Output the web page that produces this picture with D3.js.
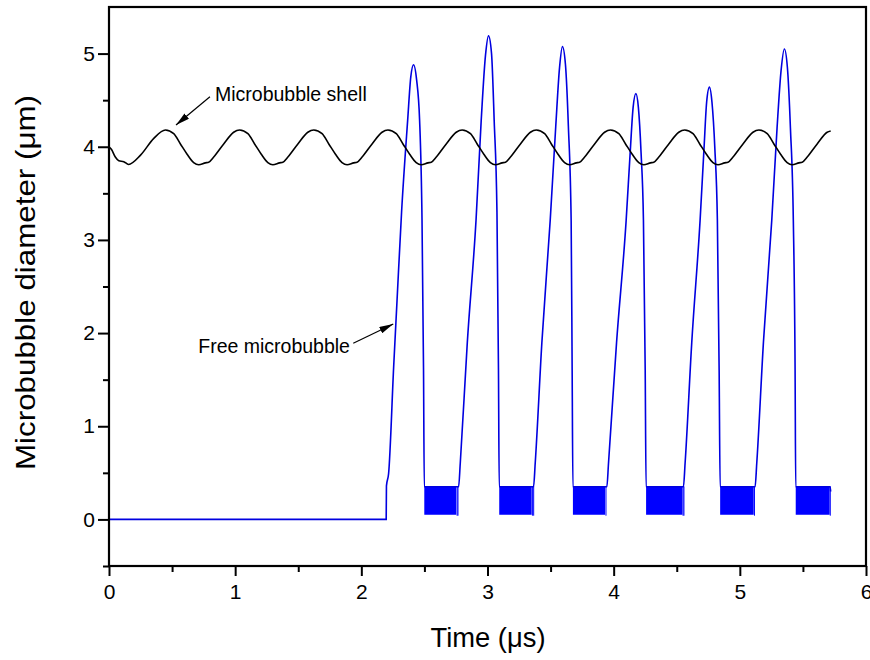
<!DOCTYPE html>
<html><head><meta charset="utf-8">
<script src="https://cdn.jsdelivr.net/npm/d3@7"></script>
<style>body{margin:0;background:#fff} text{font-family:"Liberation Sans",Arial,sans-serif;fill:#000}</style>
</head><body><svg id="c" width="870" height="660"></svg>
<script>
// ---- data ----
const xTicks = [0, 1, 2, 3, 4, 5, 6];
const xMinor = [0.5, 1.5, 2.5, 3.5, 4.5, 5.5];
const yTicks = [0, 1, 2, 3, 4, 5];
const yMinor = [-0.5, 0.5, 1.5, 2.5, 3.5, 4.5];

const shellTime = [0, 0.02, 0.05, 0.078, 0.117, 0.155, 0.25, 0.355,
  0.447, 0.513, 0.566, 0.619, 0.671, 0.711, 0.764, 0.790, 0.830, 0.909, 0.988,
  1.035, 1.101, 1.154, 1.207, 1.259, 1.299, 1.352, 1.378, 1.418, 1.497, 1.576,
  1.623, 1.689, 1.742, 1.795, 1.847, 1.887, 1.940, 1.966, 2.006, 2.085, 2.164,
  2.211, 2.277, 2.330, 2.383, 2.435, 2.475, 2.528, 2.554, 2.594, 2.673, 2.752,
  2.799, 2.865, 2.918, 2.971, 3.023, 3.063, 3.116, 3.142, 3.182, 3.261, 3.340,
  3.387, 3.453, 3.506, 3.559, 3.611, 3.651, 3.704, 3.730, 3.770, 3.849, 3.928,
  3.975, 4.041, 4.094, 4.147, 4.199, 4.239, 4.292, 4.318, 4.358, 4.437, 4.516,
  4.563, 4.629, 4.682, 4.735, 4.787, 4.827, 4.880, 4.906, 4.946, 5.025, 5.104,
  5.151, 5.217, 5.270, 5.323, 5.375, 5.415, 5.468, 5.494, 5.534, 5.613, 5.692, 5.72];
const shellDiam = [4.00, 3.97, 3.89, 3.85, 3.84, 3.81, 3.91, 4.09,
  4.18, 4.14, 4.03, 3.92, 3.83, 3.806, 3.827, 3.834, 3.89, 4.03, 4.156,
  4.18, 4.14, 4.03, 3.92, 3.83, 3.806, 3.827, 3.834, 3.89, 4.03, 4.156,
  4.18, 4.14, 4.03, 3.92, 3.83, 3.806, 3.827, 3.834, 3.89, 4.03, 4.156,
  4.18, 4.14, 4.03, 3.92, 3.83, 3.806, 3.827, 3.834, 3.89, 4.03, 4.156,
  4.18, 4.14, 4.03, 3.92, 3.83, 3.806, 3.827, 3.834, 3.89, 4.03, 4.156,
  4.18, 4.14, 4.03, 3.92, 3.83, 3.806, 3.827, 3.834, 3.89, 4.03, 4.156,
  4.18, 4.14, 4.03, 3.92, 3.83, 3.806, 3.827, 3.834, 3.89, 4.03, 4.156,
  4.18, 4.14, 4.03, 3.92, 3.83, 3.806, 3.827, 3.834, 3.89, 4.03, 4.156,
  4.18, 4.14, 4.03, 3.92, 3.83, 3.806, 3.827, 3.834, 3.89, 4.03, 4.156, 4.17];

const freeTime = [0, 2.197, 2.199, 2.216, 2.256, 2.283, 2.319, 2.367, 2.392, 2.414, 2.438, 2.462, 2.481, 2.493, 2.499,
  2.771, 2.784, 2.840, 2.909, 2.950, 2.984, 3.008, 3.032, 3.053, 3.075, 3.087, 3.093,
  3.365, 3.378, 3.431, 3.497, 3.541, 3.571, 3.594, 3.618, 3.641, 3.663, 3.671, 3.677,
  3.946, 3.959, 4.023, 4.099, 4.131, 4.154, 4.176, 4.196, 4.217, 4.236, 4.250, 4.257,
  4.553, 4.566, 4.619, 4.685, 4.716, 4.737, 4.759, 4.779, 4.802, 4.822, 4.836, 4.844,
  5.121, 5.134, 5.187, 5.253, 5.295, 5.327, 5.353, 5.377, 5.401, 5.424, 5.438, 5.443,
  5.715, 5.72];
const freeDiam = [0, 0, 0.36, 0.49, 1.63, 2.35, 3.3, 4.28, 4.75, 4.88, 4.72, 4.28, 3.21, 1.6, 0.35,
  0.35, 0.6, 1.9, 3.21, 4.28, 4.98, 5.19, 5.0, 4.28, 3.3, 1.6, 0.35,
  0.35, 0.6, 1.9, 3.21, 4.22, 4.85, 5.075, 4.88, 4.22, 3.21, 1.6, 0.35,
  0.35, 0.6, 1.9, 3.21, 3.94, 4.42, 4.57, 4.42, 3.94, 3.21, 1.6, 0.35,
  0.35, 0.6, 1.9, 3.21, 3.98, 4.48, 4.64, 4.48, 3.98, 3.21, 1.6, 0.35,
  0.35, 0.6, 1.9, 3.21, 4.20, 4.82, 5.05, 4.85, 4.20, 3.21, 1.6, 0.35,
  0.35, 0.30];

// rapid oscillation bands of the free bubble between collapses
const blockStart = [2.499, 3.093, 3.677, 4.257, 4.844, 5.443];
const blockEnd   = [2.752, 3.350, 3.932, 4.545, 5.110, 5.712];
const blockLow   = [0.05, 0.05, 0.05, 0.05, 0.05, 0.05];
const blockHigh  = [0.355, 0.355, 0.355, 0.355, 0.355, 0.355];
const spikeTime  = [2.759, 2.766, 3.356, 3.366, 3.939, 4.550, 4.557, 5.116, 5.717];

const labelShell = "Microbubble shell";
const labelFree = "Free microbubble";
const xTitle = "Time (\u03bcs)";
const yTitle = "Microbubble diameter (\u03bcm)";

// ---- drawing ----
const svg = d3.select("#c");
const x = d3.scaleLinear().domain([0, 6]).range([109, 866]);
const y = d3.scaleLinear().domain([-0.5, 5.5]).range([566, 7]);

const defs = svg.append("defs");
defs.append("marker").attr("id", "ah").attr("viewBox", "0 0 14 8")
  .attr("refX", 14).attr("refY", 4).attr("markerWidth", 14).attr("markerHeight", 7)
  .attr("markerUnits", "userSpaceOnUse").attr("orient", "auto").attr("preserveAspectRatio", "none")
  .append("path").attr("d", "M0,0 L14,4 L0,8 Z").attr("fill", "#000");

defs.append("clipPath").attr("id", "pc").append("rect")
  .attr("x", x(0)).attr("y", y(5.5)).attr("width", x(6) - x(0)).attr("height", y(-0.5) - y(5.5));

const plot = svg.append("g").attr("clip-path", "url(#pc)");

plot.selectAll("rect.blk").data(blockStart).join("rect").attr("class", "blk")
  .attr("x", (d) => x(d))
  .attr("width", (d, i) => x(blockEnd[i]) - x(d))
  .attr("y", (d, i) => y(blockHigh[i]))
  .attr("height", (d, i) => y(blockLow[i]) - y(blockHigh[i]))
  .attr("fill", "#0000ff");
plot.selectAll("line.spk").data(spikeTime).join("line").attr("class", "spk")
  .attr("x1", (d) => x(d)).attr("x2", (d) => x(d))
  .attr("y1", y(0.355)).attr("y2", y(0.04))
  .attr("stroke", "#0000ff").attr("stroke-width", 1);

const line = d3.line().x((d) => x(d[0])).y((d) => y(d[1])).curve(d3.curveMonotoneX);
plot.append("path").datum(freeTime.map((t, i) => [t, freeDiam[i]]))
  .attr("d", line).attr("fill", "none").attr("stroke", "#0000e0").attr("stroke-width", 1.6);
plot.append("path").datum(shellTime.map((t, i) => [t, shellDiam[i]]))
  .attr("d", line).attr("fill", "none").attr("stroke", "#000").attr("stroke-width", 1.6);

// axes
const fs = 21;
const gx = svg.append("g").attr("transform", `translate(0,${y(-0.5)})`)
  .call(d3.axisBottom(x).tickValues(xTicks).tickSize(10).tickSizeOuter(0).tickPadding(8).tickFormat(d3.format("d")));
const gxm = svg.append("g").attr("transform", `translate(0,${y(-0.5)})`)
  .call(d3.axisBottom(x).tickValues(xMinor).tickSize(6).tickSizeOuter(0).tickFormat(""));
const gy = svg.append("g").attr("transform", `translate(${x(0)},0)`)
  .call(d3.axisLeft(y).tickValues(yTicks).tickSize(11).tickSizeOuter(0).tickPadding(3).tickFormat(d3.format("d")));
const gym = svg.append("g").attr("transform", `translate(${x(0)},0)`)
  .call(d3.axisLeft(y).tickValues(yMinor).tickSize(6).tickSizeOuter(0).tickFormat(""));
[gx, gxm, gy, gym].forEach((g) => {
  g.select(".domain").remove();
  g.selectAll(".tick line").attr("stroke", "#000").attr("stroke-width", 2);
  g.selectAll(".tick text").attr("font-size", fs).attr("font-family", '"Liberation Sans",Arial,sans-serif').attr("fill", "#000");
});

// frame
svg.append("rect").attr("x", x(0)).attr("y", y(5.5)).attr("width", x(6) - x(0)).attr("height", y(-0.5) - y(5.5))
  .attr("fill", "none").attr("stroke", "#000").attr("stroke-width", 2.2);

// titles
svg.append("text").attr("x", 488).attr("y", 647).attr("text-anchor", "middle")
  .attr("font-size", 27).attr("textLength", 115).attr("lengthAdjust", "spacingAndGlyphs").text(xTitle);
svg.append("text").attr("transform", `translate(35,${(95 + 470) / 2}) rotate(-90)`).attr("text-anchor", "middle")
  .attr("font-size", 28).attr("textLength", 375).attr("lengthAdjust", "spacingAndGlyphs").text(yTitle);

// annotations
svg.append("text").attr("x", x(0.84)).attr("y", y(4.49)).attr("font-size", 19.5).text(labelShell);
svg.append("line").attr("x1", x(0.80)).attr("y1", y(4.537)).attr("x2", x(0.531)).attr("y2", y(4.233))
  .attr("stroke", "#000").attr("stroke-width", 1.2).attr("marker-end", "url(#ah)");
svg.append("text").attr("x", x(1.91)).attr("y", y(1.786)).attr("text-anchor", "end").attr("font-size", 19.5).text(labelFree);
svg.append("line").attr("x1", x(1.936)).attr("y1", y(1.89)).attr("x2", x(2.253)).attr("y2", y(2.097))
  .attr("stroke", "#000").attr("stroke-width", 1.2).attr("marker-end", "url(#ah)");
</script></body></html>
